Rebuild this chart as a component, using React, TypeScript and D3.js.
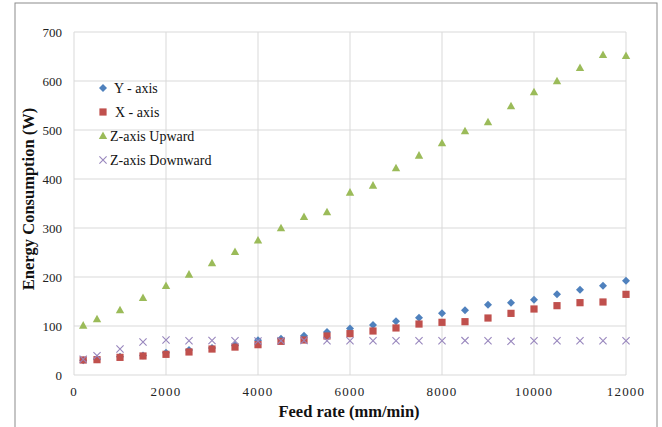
import React from "react";
import * as d3 from "d3";

const feedRates = [200, 500, 1000, 1500, 2000, 2500, 3000, 3500, 4000, 4500, 5000, 5500, 6000, 6500, 7000, 7500, 8000, 8500, 9000, 9500, 10000, 10500, 11000, 11500, 12000];
const yAxis = [30, 32, 37, 40, 45.6, 51, 55, 60, 70.7, 74, 80, 88, 95, 102, 109.5, 117, 125.8, 132, 143.5, 147.6, 153.7, 164.6, 174, 182.2, 192.5];
const xAxis = [30.6, 31.3, 36, 38.8, 42.2, 47, 53, 57, 61.9, 68.7, 71.4, 79.6, 84.4, 89.8, 96, 104, 107.5, 108.8, 116.3, 125.8, 134.7, 141.5, 147.6, 149, 164.6];
const zUp = [100.6, 113.6, 132, 157, 181.6, 204.8, 228, 251, 274.3, 299.3, 322.4, 332, 372, 386.3, 421.8, 447.6, 472.8, 497.3, 515.7, 548.3, 576.9, 599.4, 626.5, 653, 651];
const zDown = [32, 39.5, 53, 67.3, 71.4, 70, 70.5, 70, 69.4, 70, 70.5, 70, 70, 70, 70, 70, 70, 70.2, 70, 68.7, 70, 70, 70, 70, 70];

const xTicks = [0, 2000, 4000, 6000, 8000, 10000, 12000];
const yTicks = [0, 100, 200, 300, 400, 500, 600, 700];
const legendLabels = ["Y - axis", "X - axis", "Z-axis Upward", "Z-axis Downward"];

const W = 662, H = 427;
const left = 74, right = 626, top = 32, bottom = 375;
const serif = "'Liberation Serif', 'Times New Roman', serif";

const BLUE = "#4F81BD", RED = "#C0504D", GREEN = "#9BBB59", PURPLE = "#9886BD";

function Marker({ kind, x, y }: { kind: string; x: number; y: number }) {
  if (kind === "diamond") {
    const s = 4;
    return <path d={`M${x},${y - s}L${x + s},${y}L${x},${y + s}L${x - s},${y}Z`} fill={BLUE} />;
  }
  if (kind === "square") {
    const s = 3.6;
    return <rect x={x - s} y={y - s} width={2 * s} height={2 * s} fill={RED} />;
  }
  if (kind === "triangle") {
    return <path d={`M${x},${y - 4.6}L${x + 4.2},${y + 3}L${x - 4.2},${y + 3}Z`} fill={GREEN} />;
  }
  const s = 3.6;
  return (
    <path d={`M${x - s},${y - s}L${x + s},${y + s}M${x + s},${y - s}L${x - s},${y + s}`} stroke={PURPLE} strokeWidth={1.1} fill="none" />
  );
}

export default function App() {
  const xs = d3.scaleLinear().domain([0, 12000]).range([left, right]);
  const ys = d3.scaleLinear().domain([0, 700]).range([bottom, top]);

  const series = [
    { kind: "diamond", values: yAxis },
    { kind: "square", values: xAxis },
    { kind: "triangle", values: zUp },
    { kind: "cross", values: zDown },
  ];

  const legend = [
    { kind: "diamond", label: legendLabels[0], y: 88, tx: 114 },
    { kind: "square", label: legendLabels[1], y: 112, tx: 115 },
    { kind: "triangle", label: legendLabels[2], y: 136, tx: 110 },
    { kind: "cross", label: legendLabels[3], y: 160, tx: 110 },
  ];

  return (
    <svg width={W} height={H} style={{ position: "absolute", left: 0, top: 0, background: "#fff" }}>
      <rect x={15} y={3} width={642} height={440} fill="#fff" stroke="#8c8c8c" strokeWidth={1} />
      {xTicks.map((t) => (
        <line key={"gx" + t} x1={xs(t)} x2={xs(t)} y1={top} y2={bottom} stroke="#d9d9d9" strokeWidth={1} />
      ))}
      {yTicks.map((t) => (
        <line key={"gy" + t} x1={left} x2={right} y1={ys(t)} y2={ys(t)} stroke="#d9d9d9" strokeWidth={1} />
      ))}
      {yTicks.map((t) => (
        <text key={"ty" + t} x={62} y={ys(t)} dy="0.35em" textAnchor="end" fontFamily={serif} fontSize={13} fill="#222">
          {t}
        </text>
      ))}
      {xTicks.map((t) => (
        <text key={"tx" + t} x={xs(t)} y={396} textAnchor="middle" fontFamily={serif} fontSize={13} letterSpacing={1.2} fill="#222">
          {t}
        </text>
      ))}
      <text x={349} y={417} textAnchor="middle" fontFamily={serif} fontSize={16.5} fontWeight="bold" fill="#111">
        Feed rate (mm/min)
      </text>
      <text transform="translate(34,199) rotate(-90)" textAnchor="middle" fontFamily={serif} fontSize={16.5} fontWeight="bold" fill="#111">
        Energy Consumption (W)
      </text>
      {series.map((s) =>
        s.values.map((v, i) => <Marker key={s.kind + i} kind={s.kind} x={xs(feedRates[i])} y={ys(v)} />)
      )}
      {legend.map((l) => (
        <g key={l.label}>
          <Marker kind={l.kind} x={103} y={l.y} />
          <text x={l.tx} y={l.y} dy="0.35em" fontFamily={serif} fontSize={14} fill="#111">
            {l.label}
          </text>
        </g>
      ))}
    </svg>
  );
}
